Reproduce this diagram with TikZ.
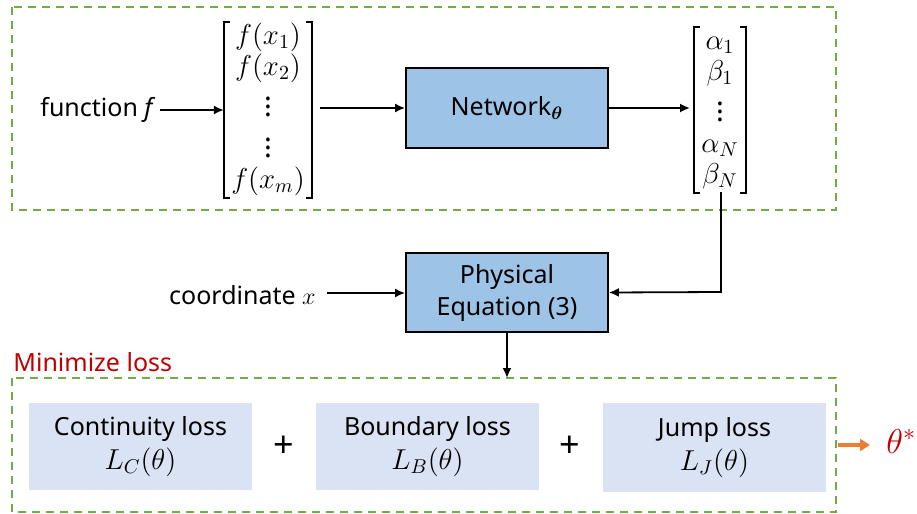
\documentclass[tikz,border=0pt]{standalone}
\usepackage{amsmath}
\usepackage{bm}
\usepackage{fontspec}
\setmainfont{Noto Sans}
\usetikzlibrary{arrows.meta}
\definecolor{dgreen}{HTML}{70AD47}
\definecolor{netblue}{HTML}{9DC3E6}
\definecolor{lossblue}{HTML}{DAE3F3}
\definecolor{dred}{HTML}{C00000}
\definecolor{orng}{HTML}{ED7D31}
\tikzset{
  grpbox/.style={draw=dgreen, line width=1pt, dash pattern=on 4pt off 3pt},
  bluebox/.style={draw=black, line width=0.9pt, fill=netblue, align=center, inner sep=0pt},
  lossbox/.style={fill=lossblue, align=center, inner sep=0pt},
  arr/.style={-{Latex[length=5pt,width=4.5pt]}, line width=0.9pt},
  txt/.style={font=\fontsize{12.5}{15}\selectfont, inner sep=0pt},
  vec/.style={font=\fontsize{14.5}{15.6}\selectfont, inner ysep=0pt, inner xsep=3.5pt},
  brk/.style={line width=0.9pt},
}
\begin{document}
\begin{tikzpicture}[x=0.5pt,y=-0.5pt]
\useasboundingbox (0,0) rectangle (917,514);
% group boxes
\draw[grpbox] (12,7) rectangle (836,210);
\draw[grpbox] (12,378) rectangle (836,512);
% top row
\node[txt, anchor=east] (fn) at (157,110) {function $\mathit{f}$\,};
\node[vec] (fv) at (268,110) {$\begin{array}{@{}c@{}}f(x_1)\\ f(x_2)\\ \vdots\\ \vdots\\ f(x_m)\end{array}$};
\draw[brk] ([xshift=3pt]fv.north west) -- (fv.north west) -- (fv.south west) -- ++(3pt,0);
\draw[brk] ([xshift=-3pt]fv.north east) -- (fv.north east) -- (fv.south east) -- ++(-3pt,0);
\node[bluebox, minimum width=101pt, minimum height=40pt, txt] (net) at (507,108) {Network$_{\bm{\theta}}$};
\node[vec] (ab) at (720,110) {$\begin{array}{@{}c@{}}\alpha_1\\ \beta_1\\ \vdots\\ \alpha_N\\ \beta_N\end{array}$};
\draw[brk] ([xshift=3pt]ab.north west) -- (ab.north west) -- (ab.south west) -- ++(3pt,0);
\draw[brk] ([xshift=-3pt]ab.north east) -- (ab.north east) -- (ab.south east) -- ++(-3pt,0);
\draw[arr] (fn.east) ++(3,0) coordinate (fs) -- (fs -| fv.west);
\draw[arr] (fv.east) ++(8,-2) coordinate (fe) -- (fe -| net.west);
\draw[arr] (net.east) -- ([xshift=-2pt]net.east -| ab.west);
% physical equation
\node[bluebox, minimum width=101pt, minimum height=39.5pt, txt, font=\fontsize{12.5}{16}\selectfont] (pe) at (507,292.5) {Physical\\Equation (3)};
\node[txt, anchor=east] (cx) at (316,295) {coordinate $x$};
\draw[arr] (cx.east) ++(11,-2) coordinate (cs) -- (cs -| pe.west);
\coordinate (abb) at (721,192);
\draw[arr] (abb) -- (721,292) -- (pe.east);
\coordinate (lt) at (507,378);
\draw[arr] (pe.south) -- (lt);
% minimize loss
\node[txt, text=dred, anchor=west] (ml) at (13,362) {Minimize loss};
% loss boxes
\node[lossbox, minimum width=111.5pt, minimum height=43.5pt, txt, font=\fontsize{12.5}{17}\selectfont] (l1) at (140.5,446.5) {Continuity loss\\{\fontsize{14}{17}\selectfont $L_C(\theta)$}};
\node[lossbox, minimum width=111.5pt, minimum height=43.5pt, txt, font=\fontsize{12.5}{17}\selectfont] (l2) at (427.5,446.5) {Boundary loss\\{\fontsize{14}{17}\selectfont $L_B(\theta)$}};
\node[lossbox, minimum width=111.5pt, minimum height=44.5pt, txt, font=\fontsize{12.5}{17}\selectfont] (l3) at (714.5,447.5) {Jump loss\\{\fontsize{14}{17}\selectfont $L_J(\theta)$}};
\node[txt, font=\fontsize{18}{20}\bfseries] (p1) at (284,447) {+};
\node[txt, font=\fontsize{18}{20}\bfseries] (p2) at (570,447) {+};
\coordinate (os) at (838,445);
\node[txt, text=dred, font=\fontsize{17}{20}\selectfont, anchor=west] (th) at (886,441) {$\theta^*$};
\coordinate (oe) at (870,445);
\draw[-{Triangle[length=5pt,width=6pt]}, draw=orng, fill=orng, line width=2pt] (os) -- (oe);
\end{tikzpicture}
\end{document}
